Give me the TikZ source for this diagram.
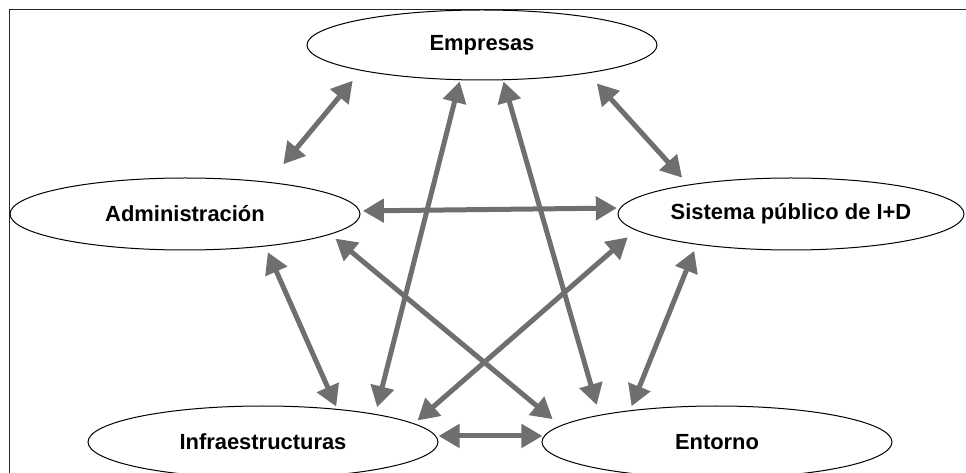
\documentclass[tikz,border=0pt]{standalone}
\usepackage{fontspec}
\setmainfont{Liberation Sans}
\usetikzlibrary{shapes.geometric,arrows.meta}
\definecolor{arrowgray}{RGB}{111,111,111}
\tikzset{
  actor/.style={ellipse, draw=black, line width=1bp, inner sep=0pt, fill=white,
    font=\fontsize{22}{26}\selectfont\bfseries},
  wide/.style={minimum width=350bp, minimum height=72bp},
  biarrow/.style={draw=arrowgray, line width=5bp,
    {Triangle[length=21bp,width=23bp]}-{Triangle[length=21bp,width=23bp]}},
  frameline/.style={draw=black!85, line width=1bp}
}
\begin{document}
\begin{tikzpicture}[x=1bp,y=-1bp]
\useasboundingbox (0,0) rectangle (966,473);
\clip (0,0) rectangle (966,473);
\coordinate (fbl) at (9,473);
\coordinate (ftl) at (9,10);
\coordinate (ftr) at (966,10);
\draw[frameline] (fbl) -- (ftl) -- (ftr);

\node[actor, minimum width=350bp, minimum height=70bp] (E) at (482,45) {Empresas};
\node[actor, wide] (A) at (185,214) {Administración};
\node[actor, minimum width=346bp, minimum height=72bp] (S) at (791,214) {Sistema público de I+D};
\node[actor, wide] (I) at (263,442) {Infraestructuras};
\node[actor, wide] (N) at (717,442) {Entorno};

\draw[biarrow, shorten <=13bp, shorten >=23bp] (E.192.9) -- (A.21.1);
\draw[biarrow, shorten <=13.6bp, shorten >=9.3bp] (E.345.2) -- (S.164.1);
\draw[biarrow, shorten <=3bp, shorten >=3bp] (A.1.65) -- (S.178.3);
\draw[biarrow, shorten <=6.3bp, shorten >=2.6bp] (A.338.5) -- (I.24.8);
\draw[biarrow, shorten <=6.5bp, shorten >=10bp] (A.352.1) -- (N.174.0);
\draw[biarrow, shorten <=10.6bp, shorten >=4.5bp] (S.186.6) -- (I.7.7);
\draw[biarrow, shorten <=6.7bp, shorten >=4.4bp] (S.198.4) -- (N.160.3);
\draw[biarrow, shorten <=2.5bp, shorten >=1.5bp] (I.2.0) -- (N.178.0);
\draw[biarrow, shorten <=1.3bp, shorten >=7bp] (E.238.9) -- (I.14.9);
\draw[biarrow, shorten <=1.3bp, shorten >=10.3bp] (E.301.1) -- (N.167.9);
\end{tikzpicture}
\end{document}
